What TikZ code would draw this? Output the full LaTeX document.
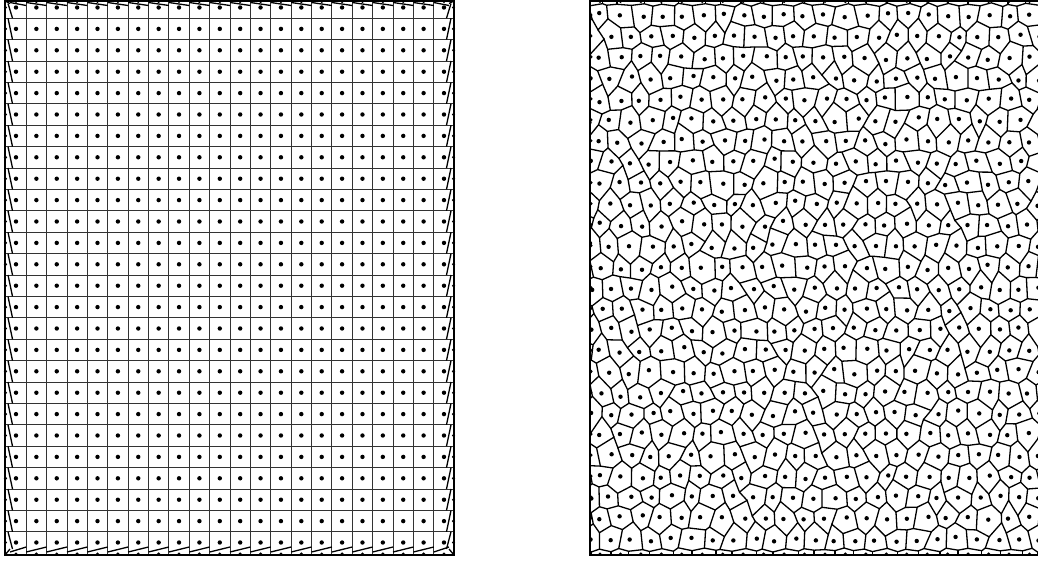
\documentclass[tikz,border=0pt]{standalone}
\usetikzlibrary{calc}
\begin{document}
\begin{tikzpicture}[x=1pt, y=-1pt,
  frame/.style={line width=1.8pt},
  cell/.style={line width=0.9pt, black!80},
  vcell/.style={line width=1.3pt, black},
  seed/.style={fill=black},
  wallseed/.style={fill=black}
]
\useasboundingbox (0,0) rectangle (1038,560);
\def\lx{20.38}
\def\ly{21.4}

% left: regular seeds
\foreach \i in {0,...,20}
  \draw[cell] ({16+(\i+0.5)*\lx},1) -- ({16+(\i+0.5)*\lx},555);
\foreach \j in {0,...,24}
  \draw[cell] (5,{7.5+(\j+0.5)*\ly}) -- (454,{7.5+(\j+0.5)*\ly});
\foreach \j in {0,...,25} {
  \pgfmathsetmacro\yt{max(3.5,7.5+(\j-0.5)*\ly)}
  \pgfmathsetmacro\yb{min(549,7.5+(\j+0.5)*\ly)}
  \draw[vcell] (8,\yt) -- (12.5,\yb);
  \draw[vcell] (451,\yt) -- (446.5,\yb);
  \fill[wallseed] (5.5,{7.5+\j*\ly}) circle (1.7pt);
  \fill[wallseed] (453.5,{7.5+\j*\ly}) circle (1.7pt);
}
\foreach \i in {0,...,21} {
  \pgfmathsetmacro\xl{max(10,16+(\i-0.5)*\lx)}
  \pgfmathsetmacro\xr{min(449,16+(\i+0.5)*\lx)}
  \draw[vcell] (\xl,2.5) -- (\xr,5.5);
  \draw[vcell] (\xl,552) -- (\xr,547);
  \fill[wallseed] ({16+\i*\lx},1.5) circle (1.7pt);
  \fill[wallseed] ({16+\i*\lx},554) circle (1.7pt);
}
\draw[vcell] (5,1) -- (10,3.5) (454,1) -- (449,3.5)
             (5,555) -- (10,549) (454,555) -- (449,549);
\foreach \i in {0,...,21}
  \foreach \j in {0,...,25}
    \fill[seed] ({16+\i*\lx},{7.5+\j*\ly}) circle (2.2pt);
\draw[frame] (5,1) rectangle (454,555);

% right: random seeds
\pgfmathsetseed{4711}
\def\rw{10.225}
\def\rh{20.96}
\coordinate (top) at (0,1);
\coordinate (bot) at (0,555);
\foreach \j in {0,...,26} {
  \pgfmathsetmacro\amp{(\j==0 || \j==26) ? 1 : 4.5}
  \pgfmathsetmacro\lift{(\j==0 || \j==26) ? 1.2 : 3.5}
  \foreach \k in {0,...,48} {
    \pgfmathsetmacro\dy{mod(\k+\j,2)==0 ? \lift : -\lift}
    \coordinate (v-\k-\j) at ({590+(\k-2)*\rw+4*rand},{5+\j*\rh+\dy+\amp*rand});
  }
}
\begin{scope}
  \clip (590,1) rectangle (1040,555);
  \foreach \j in {0,...,26}
    \draw[vcell] (v-0-\j) \foreach \k in {1,...,48} { -- (v-\k-\j) };
  \foreach \j in {0,...,25} {
    \pgfmathtruncatemacro\jj{\j+1}
    \pgfmathtruncatemacro\p{mod(\j,2)}
    \pgfmathtruncatemacro\pp{\p+2}
    \foreach \k in {\p,\pp,...,48}
      \draw[vcell] (v-\k-\j) -- (v-\k-\jj);
    \pgfmathtruncatemacro\kend{46-\p}
    \foreach \k in {\p,\pp,...,\kend} {
      \pgfmathtruncatemacro\ka{\k+1}
      \pgfmathtruncatemacro\kb{\k+2}
      \fill[seed] ($(barycentric cs:v-\k-\j=1,v-\ka-\j=1,v-\kb-\j=1,v-\k-\jj=1,v-\ka-\jj=1,v-\kb-\jj=1)+(1.5*rand,1.5*rand)$) circle (2.2pt);
    }
  }
  \foreach \k in {1,3,...,47}
    \draw[vcell] (v-\k-0) -- (v-\k-0 |- top);
  \foreach \k in {0,2,...,48}
    \draw[vcell] (v-\k-26) -- (v-\k-26 |- bot);
  \foreach \j in {0,...,25} {
    \fill[wallseed] (591,{15+\j*\rh}) circle (1.7pt);
  }
  \foreach \k in {0,...,21} {
    \fill[wallseed] ({600+\k*2*\rw},1.5) circle (1.7pt);
    \fill[wallseed] ({600+\k*2*\rw},554) circle (1.7pt);
  }
\end{scope}
\draw[frame] (590,1) rectangle (1040,555);
\end{tikzpicture}
\end{document}
